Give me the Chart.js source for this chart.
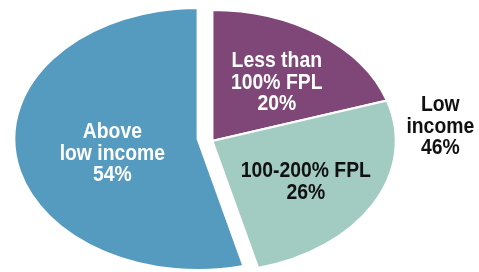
<!DOCTYPE html>
<html>
<head>
<meta charset="utf-8">
<script src="https://cdn.jsdelivr.net/npm/chart.js@4/dist/chart.umd.min.js"></script>
<style>
  html, body { margin: 0; padding: 0; background: #fff; }
  #wrap { position: relative; width: 479px; height: 272px; }
</style>
</head>
<body>
<div id="wrap"><canvas id="grafico"></canvas></div>
<script>
// Datos
const categorias = ['Less than 100% FPL', '100-200% FPL', 'Above low income'];
const porcentajes = [20, 26, 54];
const colores = ['#7e4777', '#a2cbc2', '#559abf'];
const lineasEtiqueta = [['Less than', '100% FPL'], ['100-200% FPL'], ['Above', 'low income']];
const separados = [true, true, false];   // porciones "Low income" desplazadas
const grupoEtiqueta = ['Low', 'income'];
const grupoPorcentaje = 46;

// Ajustes de dibujo
const escalaX = 1.405;        // estira el círculo en elipse
const despX = 10, despY = 2;  // desplazamiento del grupo (unidades sin escalar)
const radioEtiqueta = [0.58, 0.6, 0.48];
const ajusteEtiqueta = [[2, 3], [-3, 3], [2, 7]];
const radioGrupo = 1.25;
const fuente = 'bold 22px "Liberation Sans", Arial, sans-serif';
const compresion = 0.88;      // letra estrecha
const altoLinea = 21.5;

function centro(chart) {
    const a = chart.chartArea;
    return { x: (a.left + a.right) / 2, y: (a.top + a.bottom) / 2 };
}

const elipse = {
    id: 'elipse',
    afterUpdate(chart) {
        chart.getDatasetMeta(0).data.forEach((el, i) => {
            if (!separados[i] || el._envuelto) return;
            const base = el.draw;
            el.draw = function(ctx, area) {
                ctx.save();
                ctx.translate(despX, despY);
                base.call(this, ctx, area);
                ctx.restore();
            };
            el._envuelto = true;
        });
    },
    beforeDatasetsDraw(chart) {
        const ctx = chart.ctx, c = centro(chart);
        ctx.save();
        ctx.translate(c.x, c.y);
        ctx.scale(escalaX, 1);
        ctx.translate(-c.x, -c.y);
    },
    afterDatasetsDraw(chart) {
        chart.ctx.restore();
    },
    afterDraw(chart) {
        const ctx = chart.ctx, c = centro(chart);
        const arcos = chart.getDatasetMeta(0).data;

        function bloque(lineas, x, y, color) {
            ctx.save();
            ctx.font = fuente;
            ctx.textAlign = 'center';
            ctx.textBaseline = 'middle';
            ctx.fillStyle = color;
            ctx.translate(x, y);
            ctx.scale(compresion, 1);
            const y0 = -(lineas.length - 1) * altoLinea / 2;
            lineas.forEach((t, k) => ctx.fillText(t, 0, y0 + k * altoLinea));
            ctx.restore();
        }

        arcos.forEach((el, i) => {
            const medio = (el.startAngle + el.endAngle) / 2;
            const r = el.outerRadius * radioEtiqueta[i];
            const dx = separados[i] ? despX : 0, dy = separados[i] ? despY : 0;
            const x = c.x + (Math.cos(medio) * r + dx) * escalaX + ajusteEtiqueta[i][0];
            const y = c.y + Math.sin(medio) * r + dy + ajusteEtiqueta[i][1];
            const color = i === 1 ? '#111' : '#fff';
            bloque([...lineasEtiqueta[i], porcentajes[i] + '%'], x, y, color);
        });

        // Etiqueta exterior del grupo "Low income"
        const inicio = arcos[0].startAngle, fin = arcos[1].endAngle;
        const medio = (inicio + fin) / 2;
        const r = arcos[0].outerRadius * radioGrupo;
        const x = c.x + (Math.cos(medio) * r + despX) * escalaX;
        const y = c.y + Math.sin(medio) * r + despY + 6;
        bloque([...grupoEtiqueta, grupoPorcentaje + '%'], x, y, '#111');
    }
};

function inicializarGrafico() {
    const ctx = document.getElementById('grafico').getContext('2d');
    new Chart(ctx, {
        type: 'pie',
        data: {
            labels: categorias,
            datasets: [{
                data: porcentajes,
                backgroundColor: colores,
                borderColor: '#fff',
                borderWidth: 2,
                clip: false
            }]
        },
        options: {
            responsive: true,
            maintainAspectRatio: false,
            animation: false,
            events: [],
            layout: { padding: { left: 0, right: 83, top: 7, bottom: 1 } },
            plugins: {
                legend: { display: false },
                tooltip: { enabled: false }
            }
        },
        plugins: [elipse]
    });
}

document.addEventListener('DOMContentLoaded', inicializarGrafico);
</script>
</body>
</html>
